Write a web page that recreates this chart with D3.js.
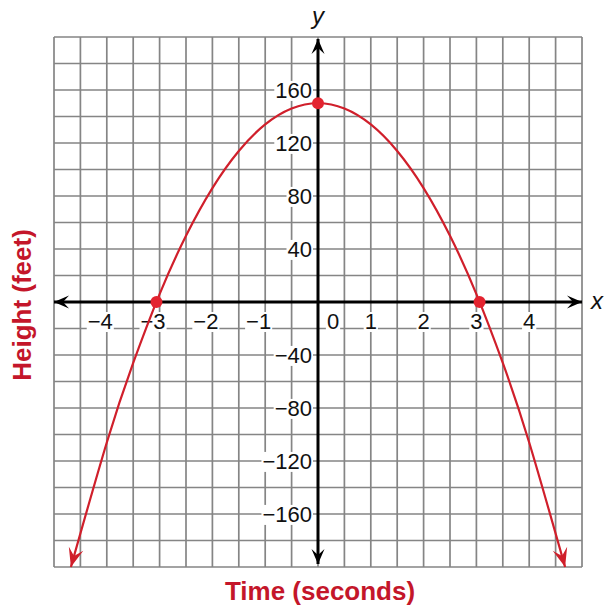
<!DOCTYPE html>
<html>
<head>
<meta charset="utf-8">
<script src="https://cdn.jsdelivr.net/npm/d3@7"></script>
<style>
  html, body { margin: 0; padding: 0; background: #fff; }
  svg { display: block; }
  text { font-family: "Liberation Sans", Arial, Helvetica, sans-serif; }
</style>
</head>
<body>
<svg id="chart" width="604" height="610"></svg>
<script>
// Height of a thrown object over time, read at sample times along the curve
const timeSec   = [-4.68, -4, -3.5, -3, -2.5, -2, -1.5, -1, -0.5, 0, 0.5, 1, 1.5, 2, 2.5, 3, 3.5, 4, 4.68];
const heightFt  = [-200, -106, -46, 6, 50, 86, 114, 134, 146, 150, 146, 134, 114, 86, 50, 6, -46, -106, -200];

// Marked points: the two roots and the vertex
const keyTime   = [-3.06, 0, 3.06];
const keyHeight = [0, 150, 0];

// Axis tick labels
const xTickValues = [-4, -3, -2, -1, 0, 1, 2, 3, 4];
const yTickValues = [160, 120, 80, 40, -40, -80, -120, -160];

const xDomain = [-5, 5];
const yDomain = [-200, 200];

const svg = d3.select("#chart");
const plotLeft = 54, plotRight = 582, plotTop = 37, plotBottom = 567;

const x = d3.scaleLinear().domain(xDomain).range([plotLeft, plotRight]);
const y = d3.scaleLinear().domain(yDomain).range([plotBottom, plotTop]);

const red = "#d01f2b";
const gridColor = "#858585";

// Arrowhead markers
const defs = svg.append("defs");
function arrowMarker(id, color, len, half) {
  defs.append("marker")
    .attr("id", id)
    .attr("markerUnits", "userSpaceOnUse")
    .attr("viewBox", `${-len - 1} ${-half - 1} ${len + 2} ${2 * half + 2}`)
    .attr("refX", 0).attr("refY", 0)
    .attr("markerWidth", len + 2).attr("markerHeight", 2 * half + 2)
    .attr("orient", "auto-start-reverse")
    .append("path")
    .attr("d", `M0,0 L${-len},${-half} L${-len * 0.6},0 L${-len},${half} Z`)
    .attr("fill", color);
}
arrowMarker("axisArrow", "#000", 15, 6.5);
arrowMarker("curveArrow", red, 19, 7.5);

// Grid
const grid = svg.append("g").attr("stroke", gridColor).attr("stroke-width", 1.7);
grid.selectAll("line.v").data(x.ticks(20)).join("line")
  .attr("class", "v")
  .attr("x1", d => x(d)).attr("x2", d => x(d))
  .attr("y1", y(yDomain[1])).attr("y2", y(yDomain[0]));
grid.selectAll("line.h").data(y.ticks(20)).join("line")
  .attr("class", "h")
  .attr("y1", d => y(d)).attr("y2", d => y(d))
  .attr("x1", x(xDomain[0])).attr("x2", x(xDomain[1]));

// Tick labels on white backing
const labelG = svg.append("g").attr("font-size", 22).attr("fill", "#111");
function fmt(v) { return v < 0 ? "\u2212" + Math.abs(v) : String(v); }

labelG.selectAll("text.ylab").data(yTickValues).join("text")
  .attr("class", "ylab")
  .attr("x", x(0) - 6)
  .attr("y", d => y(d))
  .attr("dy", "0.36em")
  .attr("text-anchor", "end")
  .text(fmt);

labelG.selectAll("text.xlab").data(xTickValues).join("text")
  .attr("class", "xlab")
  .attr("x", d => d === 0 ? x(0) + 15 : (d < 0 ? x(d) + 6 : x(d)))
  .attr("y", y(0) + 27)
  .attr("text-anchor", d => d < 0 ? "end" : "middle")
  .text(fmt);

labelG.selectAll("text").each(function () {
  const b = this.getBBox();
  labelG.insert("rect", () => this)
    .attr("x", b.x - 1).attr("y", b.y + 3)
    .attr("width", b.width + 2).attr("height", b.height - 5)
    .attr("fill", "#fff");
});

// Axes with arrowheads at both ends
const axes = svg.append("g").attr("stroke", "#000").attr("stroke-width", 3);
axes.append("line")
  .attr("x1", x(xDomain[0])).attr("x2", x(xDomain[1]))
  .attr("y1", y(0)).attr("y2", y(0))
  .attr("marker-start", "url(#axisArrow)").attr("marker-end", "url(#axisArrow)");
axes.append("line")
  .attr("x1", x(0)).attr("x2", x(0))
  .attr("y1", y(yDomain[1]) + 2).attr("y2", y(yDomain[0]) - 3)
  .attr("marker-start", "url(#axisArrow)").attr("marker-end", "url(#axisArrow)");

// Axis letters
svg.append("text").attr("x", x(0)).attr("y", 24)
  .attr("text-anchor", "middle").attr("font-size", 24).attr("font-style", "italic")
  .attr("fill", "#111").text("y");
svg.append("text").attr("x", 597).attr("y", y(0) + 7)
  .attr("text-anchor", "middle").attr("font-size", 24).attr("font-style", "italic")
  .attr("fill", "#111").text("x");

// Curve
const pts = timeSec.map((t, i) => [t, heightFt[i]]);
const line = d3.line().x(d => x(d[0])).y(d => y(d[1])).curve(d3.curveNatural);
svg.append("path")
  .datum(pts)
  .attr("d", line)
  .attr("fill", "none")
  .attr("stroke", red)
  .attr("stroke-width", 2.2)
  .attr("marker-start", "url(#curveArrow)")
  .attr("marker-end", "url(#curveArrow)");

// Key points
svg.selectAll("circle.key").data(keyTime.map((t, i) => [t, keyHeight[i]])).join("circle")
  .attr("class", "key")
  .attr("cx", d => x(d[0])).attr("cy", d => y(d[1]))
  .attr("r", 6).attr("fill", "#e3232f");

// Axis titles
svg.append("text")
  .attr("x", x(0) + 2).attr("y", 600)
  .attr("text-anchor", "middle").attr("font-size", 26).attr("font-weight", "bold")
  .attr("fill", "#c4162a").text("Time (seconds)");
svg.append("text")
  .attr("transform", `translate(31, 305) rotate(-90)`)
  .attr("text-anchor", "middle").attr("font-size", 26).attr("font-weight", "bold")
  .attr("fill", "#c4162a").text("Height (feet)");
</script>
</body>
</html>
